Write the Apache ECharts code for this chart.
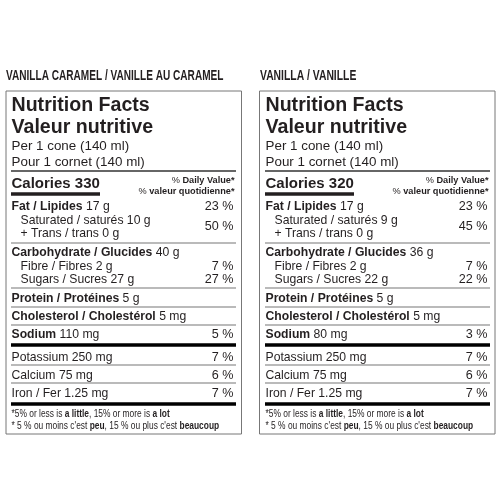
<!DOCTYPE html>
<html><head><meta charset="utf-8">
<style>html,body{margin:0;padding:0;background:#fff}#c{width:500px;height:500px}</style>
<script src="https://cdn.jsdelivr.net/npm/echarts@6/dist/echarts.min.js"></script>
</head><body><div id="c"></div>
<script>
const productTitles = ['VANILLA CARAMEL / VANILLE AU CARAMEL', 'VANILLA / VANILLE'];
const calories = [330, 320];
const fatGrams = [17, 17];
const fatPct = [23, 23];
const saturatedGrams = [10, 9];
const transGrams = [0, 0];
const saturatedPct = [50, 45];
const carbGrams = [40, 36];
const fibreGrams = [2, 2];
const fibrePct = [7, 7];
const sugarGrams = [27, 22];
const sugarPct = [27, 22];
const proteinGrams = [5, 5];
const cholesterolMg = [5, 5];
const sodiumMg = [110, 80];
const sodiumPct = [5, 3];
const potassiumMg = [250, 250];
const potassiumPct = [7, 7];
const calciumMg = [75, 75];
const calciumPct = [6, 6];
const ironMg = [1.25, 1.25];
const ironPct = [7, 7];

const INK = '#231f20', GREY = '#777';
const SANS = '"Liberation Sans", Arial, sans-serif';
const BODY = 12.2, PCT = 12.6, YS = 0.8;
const els = [];

function text(x, y, parts, size, opt) {
  opt = opt || {};
  const rich = {
    n: {fontFamily: SANS, fontSize: size, fontWeight: 'normal', fill: INK, color: INK},
    b: {fontFamily: SANS, fontSize: size, fontWeight: 'bold', fill: INK, color: INK}
  };
  const str = parts.map(p => '{' + p[0] + '|' + p[1] + '}').join('');
  els.push({
    type: 'text', x: x, y: y + YS, scaleX: opt.sx || 1, silent: true,
    style: {text: str, rich: rich, align: opt.align || 'left', verticalAlign: 'middle', x: 0, y: 0}
  });
}
function rule(x1, x2, y, w, color) {
  els.push({type: 'line', silent: true, shape: {x1: x1, y1: y, x2: x2, y2: y}, style: {stroke: color || GREY, lineWidth: w}});
}

function panel(i) {
  const dx = i * 254, L = 11.5 + dx, IND = 20.5 + dx, R = 233.5 + dx, RULE_L = 11 + dx, RULE_R = 236 + dx;
  text(i ? 260 : 6, 75, [['b', productTitles[i]]], 14, {sx: i ? 0.74 : 0.72});
  els.push({type: 'rect', silent: true, shape: {x: 6 + i * 253.5, y: 91, width: 235.5, height: 343},
    style: {fill: '#fff', stroke: '#777', lineWidth: 1}});
  text(L, 105, [['b', 'Nutrition Facts']], 19.6);
  text(L, 127, [['b', 'Valeur nutritive']], 19.6);
  text(L, 146, [['n', 'Per 1 cone (140 ml)']], 13.4);
  text(L, 162, [['n', 'Pour 1 cornet (140 ml)']], 13.4);
  rule(RULE_L, RULE_R, 171, 1.7, '#333');
  text(L, 183, [['b', 'Calories ' + calories[i]]], 15);
  rule(RULE_L, 100 + dx, 194, 3.5, INK);
  text(R + 1, 180, [['n', '% '], ['b', 'Daily Value*']], 9.2, {align: 'right'});
  text(R + 1, 191, [['n', '% '], ['b', 'valeur quotidienne*']], 9.2, {align: 'right'});
  text(L, 206, [['b', 'Fat / Lipides '], ['n', fatGrams[i] + ' g']], BODY);
  text(R, 206, [['n', fatPct[i] + ' %']], PCT, {align: 'right'});
  text(IND, 220, [['n', 'Saturated / saturés ' + saturatedGrams[i] + ' g']], BODY);
  text(IND, 233, [['n', '+ Trans / trans ' + transGrams[i] + ' g']], BODY);
  text(R, 226, [['n', saturatedPct[i] + ' %']], PCT, {align: 'right'});
  rule(RULE_L, RULE_R, 243, 1.2, GREY);
  text(L, 252, [['b', 'Carbohydrate / Glucides '], ['n', carbGrams[i] + ' g']], BODY);
  text(IND, 266, [['n', 'Fibre / Fibres ' + fibreGrams[i] + ' g']], BODY);
  text(R, 266, [['n', fibrePct[i] + ' %']], PCT, {align: 'right'});
  text(IND, 279, [['n', 'Sugars / Sucres ' + sugarGrams[i] + ' g']], BODY);
  text(R, 279, [['n', sugarPct[i] + ' %']], PCT, {align: 'right'});
  rule(RULE_L, RULE_R, 288, 1.2, GREY);
  text(L, 298, [['b', 'Protein / Protéines '], ['n', proteinGrams[i] + ' g']], BODY);
  rule(RULE_L, RULE_R, 307, 1.2, GREY);
  text(L, 316, [['b', 'Cholesterol / Cholestérol '], ['n', cholesterolMg[i] + ' mg']], BODY);
  rule(RULE_L, RULE_R, 325, 1.2, GREY);
  text(L, 334, [['b', 'Sodium '], ['n', sodiumMg[i] + ' mg']], BODY);
  text(R, 334, [['n', sodiumPct[i] + ' %']], PCT, {align: 'right'});
  rule(RULE_L, RULE_R, 345, 3.5, '#000');
  text(L, 357, [['n', 'Potassium ' + potassiumMg[i] + ' mg']], BODY);
  text(R, 357, [['n', potassiumPct[i] + ' %']], PCT, {align: 'right'});
  rule(RULE_L, RULE_R, 365, 1.2, GREY);
  text(L, 375, [['n', 'Calcium ' + calciumMg[i] + ' mg']], BODY);
  text(R, 375, [['n', calciumPct[i] + ' %']], PCT, {align: 'right'});
  rule(RULE_L, RULE_R, 383, 1.2, GREY);
  text(L, 393, [['n', 'Iron / Fer ' + ironMg[i] + ' mg']], BODY);
  text(R, 393, [['n', ironPct[i] + ' %']], PCT, {align: 'right'});
  rule(RULE_L, RULE_R, 404, 3.5, '#000');
  text(L, 413, [['n', '*5% or less is '], ['b', 'a little'], ['n', ', 15% or more is '], ['b', 'a lot']], 10.5, {sx: 0.8});
  text(L, 425, [['n', '* 5 % ou moins c\'est '], ['b', 'peu'], ['n', ', 15 % ou plus c\'est '], ['b', 'beaucoup']], 10.5, {sx: 0.8});
}
panel(0);
panel(1);

const chart = echarts.init(document.getElementById('c'), null, {renderer: 'canvas', width: 500, height: 500});
chart.setOption({animation: false, backgroundColor: '#fff', graphic: {elements: els}});
</script></body></html>
